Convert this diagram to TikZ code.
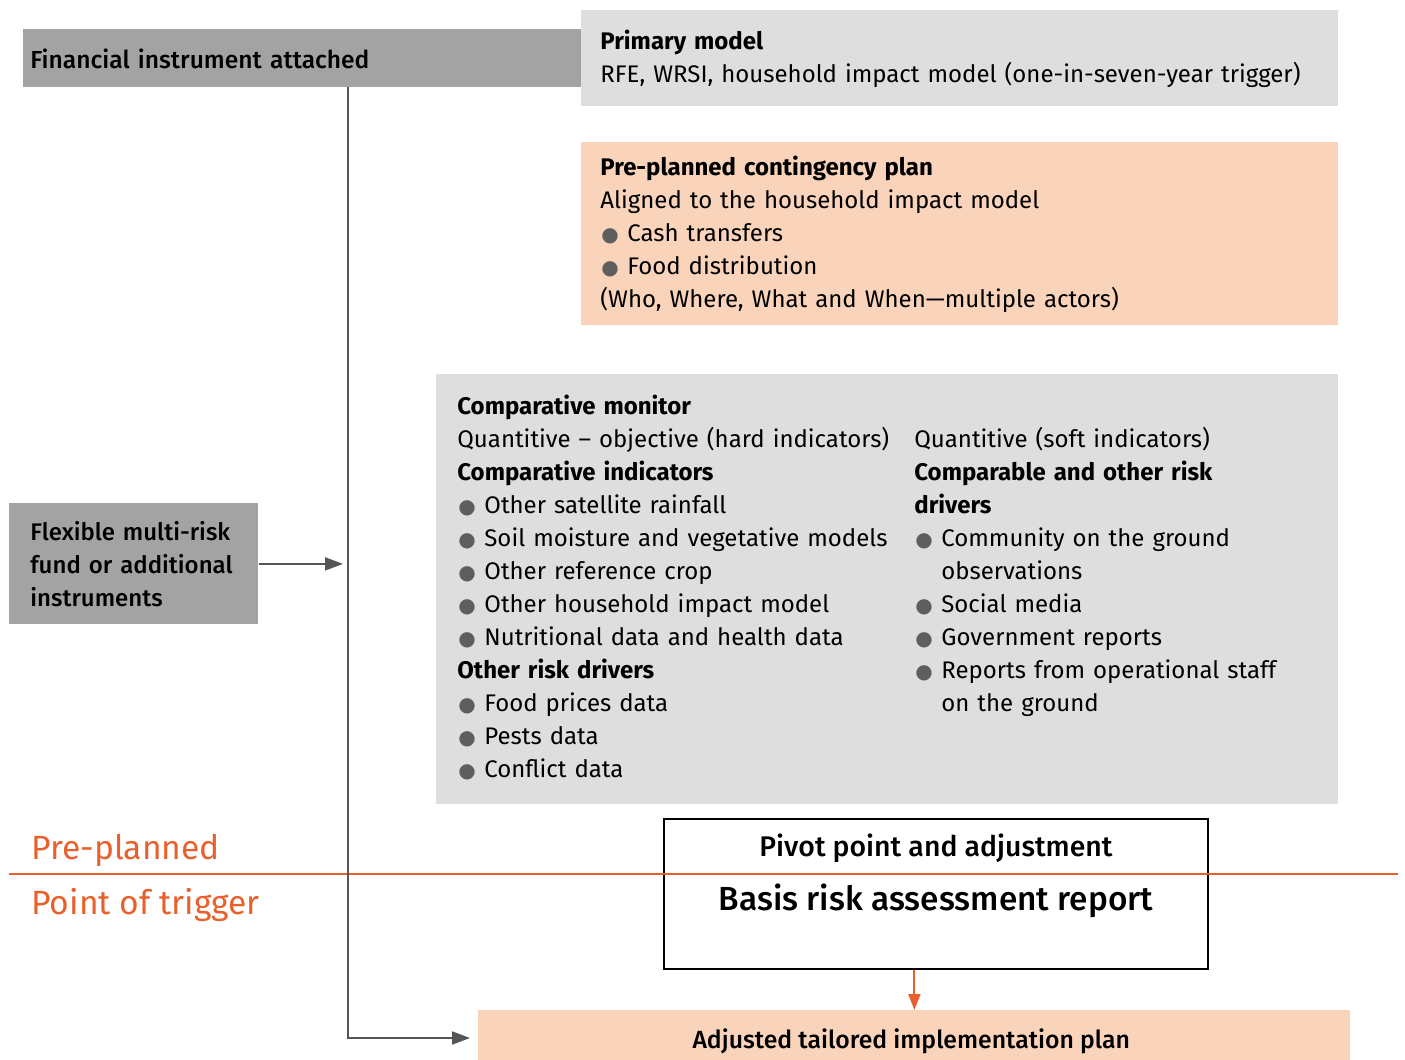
\documentclass[tikz,border=0pt]{standalone}
\usepackage{fontspec}
\setmainfont{Fira Sans}
\newfontfamily\medfont{Fira Sans Medium}
\newfontfamily\symfont{DejaVu Sans}
\usetikzlibrary{positioning, arrows.meta}
\definecolor{darkbox}{HTML}{A3A3A3}
\definecolor{lightbox}{HTML}{DEDEDE}
\definecolor{peachbox}{HTML}{F9D3BA}
\definecolor{myorange}{HTML}{E8602C}
\definecolor{linegray}{HTML}{555555}
\definecolor{dotgray}{HTML}{5E5E5E}
\newcommand{\bodyfont}{\fontsize{12}{16.5}\selectfont}
\newcommand{\bul}{\makebox[13.5pt][l]{\hspace{0.5pt}{\symfont\color{dotgray}\fontsize{10}{10}\selectfont ●}}}
\newcommand{\hng}{\hspace*{13.5pt}}
\tikzset{
	basebox/.style={
			anchor=north west,
			inner ysep=0pt,
			align=left,
			font=\bodyfont,
			text=black
		},
	greybox/.style={
			basebox,
			fill=darkbox,
			font=\medfont\bodyfont
		},
	palebox/.style={
			basebox,
			fill=lightbox
		},
	planbox/.style={
			basebox,
			fill=peachbox
		},
	connline/.style={
			draw=linegray,
			line width=1pt,
			-{Triangle[length=9pt,width=6.5pt]}
		},
	phaseline/.style={
			draw=myorange,
			line width=1pt
		},
	phaselabel/.style={
			anchor=west,
			inner sep=0pt,
			text=myorange,
			font=\fontsize{16.8}{20}\selectfont
		}
}

\begin{document}
\begin{tikzpicture}[x=0.5pt, y=-0.5pt]
\useasboundingbox (0,0) rectangle (1405,1060);

\node[greybox, minimum width=279pt, minimum height=29pt, text width=272pt, inner xsep=3.5pt, font=\medfont\fontsize{12.3}{16.5}\selectfont] (fin) at (23,29) { Financial instrument attached };
\node[palebox, minimum width=378.5pt, minimum height=48pt, text width=359.5pt, inner xsep=9.5pt] (prim) at (581,10) {
	\textbf{Primary model}\\
	RFE, WRSI, household impact model (one-in-seven-year trigger) };
\node[planbox, minimum width=378.5pt, minimum height=91.5pt, text width=359.5pt, inner xsep=9.5pt] (plan) at (581,142) {
	\textbf{Pre-planned contingency plan}\\
	Aligned to the household impact model\\
	\bul Cash transfers\\
	\bul Food distribution\\
	(Who, Where, What and When—multiple actors) };
\node[palebox, minimum width=451pt, minimum height=215pt, text width=430pt, inner xsep=10.5pt] (mon) at (436,374) {
	\begin{tabular}[t]{@{}p{228.5pt}@{}p{201.5pt}@{}}
	\multicolumn{2}{@{}l@{}}{\textbf{Comparative monitor}}\\
	Quantitive – objective (hard indicators) & Quantitive (soft indicators)\\
	\textbf{Comparative indicators} & \textbf{Comparable and other risk}\\
	\bul Other satellite rainfall & \textbf{drivers}\\
	\bul Soil moisture and vegetative models & \bul Community on the ground\\
	\bul Other reference crop & \hng observations\\
	\bul Other household impact model & \bul Social media\\
	\bul Nutritional data and health data & \bul Government reports\\
	\textbf{Other risk drivers} & \bul Reports from operational staff\\
	\bul Food prices data & \hng on the ground\\
	\bul Pests data & \\
	\bul Conflict data &
	\end{tabular} };
\node[greybox, minimum width=124.5pt, minimum height=60.5pt, text width=103.5pt, inner xsep=10.5pt] (flex) at (9,503) {
	Flexible multi-risk\\
	fund or additional\\
	instruments };

\node[draw=black, line width=0.9pt, fill=white, minimum width=272pt, minimum height=75pt, anchor=north west] (pivot) at (663,818) {};
\node[font=\medfont\fontsize{14.2}{17}\selectfont] (pivtitle) at (936,848) { Pivot point and adjustment };
\node[font=\medfont\fontsize{16.7}{20}\selectfont] (basis) at (936,901) { Basis risk assessment report };
\node[planbox, anchor=north west, align=center, font=\medfont\fontsize{12.4}{16.5}\selectfont, minimum width=436pt, minimum height=31pt] (adj) at (478,1010) { Adjusted tailored implementation plan };

\coordinate (trunk) at (348,87);
\coordinate (ph1) at (9,874);
\coordinate (ph2) at (1398,874);

\draw[phaseline] (ph1) -- (ph2);
\node[phaselabel] (pre) at (31,850) { Pre-planned };
\node[phaselabel] (trig) at (31,905) { Point of trigger };

\draw[connline] (trunk) -- (trunk |- 0,1038) -- ([xshift=-4pt]adj.west |- 0,1038);
\draw[connline] (flex.east) -- ([xshift=-2.5pt]flex.east -| trunk);
\draw[phaseline, -{Triangle[length=8pt,width=6pt]}] (adj.north |- pivot.south) -- (adj.north);
\end{tikzpicture}
\end{document}
